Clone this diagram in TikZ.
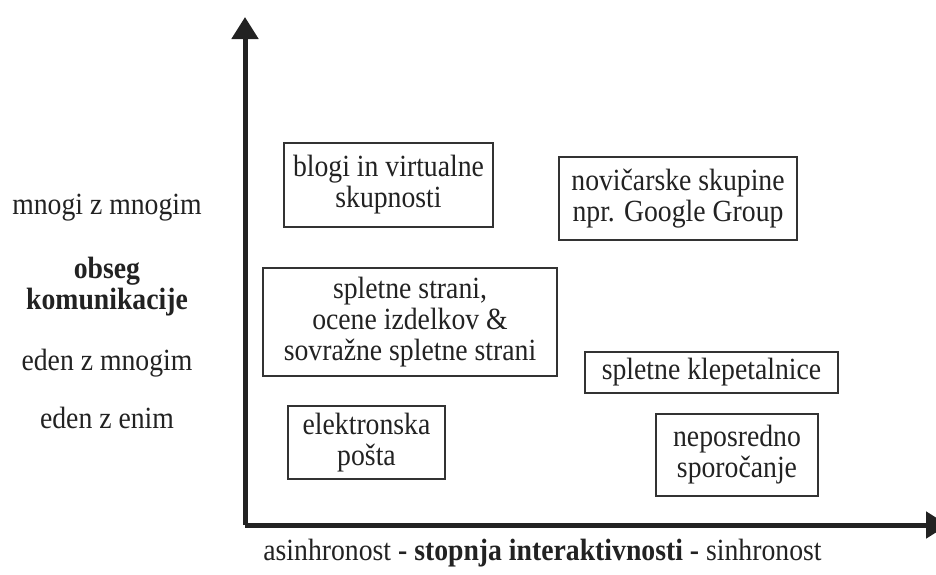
\documentclass[tikz,border=0pt]{standalone}
\usepackage{fontspec}
\setmainfont{Liberation Serif}[FakeStretch=0.9]
\usetikzlibrary{arrows.meta}
\definecolor{ink}{HTML}{222222}
\definecolor{boxline}{HTML}{333333}
\begin{document}
\begin{tikzpicture}[x=1pt,y=-1pt,
  every node/.style={text=ink,font=\fontsize{30.8}{31}\selectfont,align=center,inner sep=0pt},
  itembox/.style={draw=boxline,line width=1.6pt,rectangle},
  axisline/.style={draw=ink,line width=5pt,-{Triangle[width=26pt,length=22pt]}}]
\useasboundingbox (0,0) rectangle (936,574);
% axes
\coordinate (O) at (245,525);
\coordinate (Ytop) at (245,17);
\coordinate (Xend) at (948,525);
\draw[axisline] (O) -- (Ytop);
\draw[axisline] (O) -- (Xend);
% boxes
\node[itembox,minimum width=209pt,minimum height=84pt] (blog) at (388.5,185) {blogi in virtualne\\skupnosti};
\node[itembox,minimum width=238pt,minimum height=83pt] (news) at (678,198.5) {novičarske skupine\\npr. Google Group};
\node[itembox,minimum width=294pt,minimum height=108pt] (web) at (410,322) {spletne strani,\\ocene izdelkov \&\\sovražne spletne strani};
\node[itembox,minimum width=253pt,minimum height=41pt] (chat) at (711.5,372.5) {spletne klepetalnice};
\node[itembox,minimum width=162pt,minimum height=82pt] (im) at (737,455) {neposredno\\sporočanje};
\node[itembox,minimum width=157pt,minimum height=73pt] (mail) at (366.5,442.5) {elektronska\\pošta};
% left labels
\node (mm) at (107,208) {mnogi z mnogim};
\node (ob) at (107,287) {\bfseries obseg\\\bfseries komunikacije};
\node (em) at (107,363) {eden z mnogim};
\node (ee) at (107,418) {eden z enim};
% bottom label
\node (xl) at (542.5,553) {asinhronost \textbf{- stopnja interaktivnosti -} sinhronost};
\end{tikzpicture}
\end{document}
